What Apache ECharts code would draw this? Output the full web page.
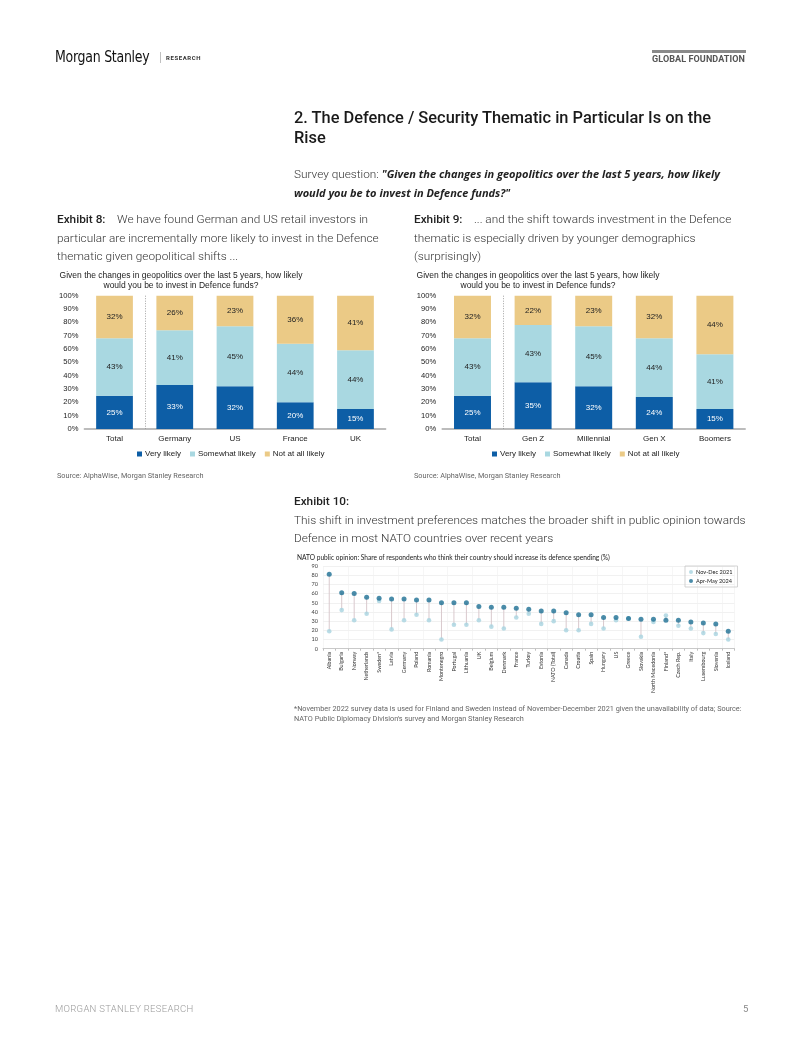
<!DOCTYPE html>
<html><head><meta charset="utf-8">
<script src="https://cdn.jsdelivr.net/npm/echarts@6/dist/echarts.min.js"></script>
<style>
html,body{margin:0;padding:0;background:#fff;}
#page{position:relative;width:802px;height:1037px;overflow:hidden;}
#chart{position:absolute;left:0;top:0;width:802px;height:1037px;}
.t{position:absolute;white-space:nowrap;z-index:2;font-family:Roboto,"Noto Sans",sans-serif;color:#3a3a3a;}
.body{font-size:11.8px;font-weight:300;line-height:18.5px;color:#333;}
.b{font-weight:500;color:#222;}
.q{font-family:"Open Sans",sans-serif;font-style:italic;font-weight:700;font-size:11px;color:#222;}
.src{font-size:7.3px;font-weight:400;color:#666;line-height:10px;}
</style></head>
<body><div id="page">
<div id="chart"></div>
<div class="t" style="left:55px;top:47px;font-family:'Liberation Sans Narrow','DejaVu Sans Condensed',sans-serif;font-size:15.5px;color:#111;line-height:20px;letter-spacing:-0.3px;transform:scaleX(0.9);transform-origin:left center;">Morgan Stanley</div>
<div class="t" style="left:159px;top:49px;font-size:12px;color:#999;line-height:16px;font-weight:300;">|</div>
<div class="t" style="left:166px;top:53px;font-size:6px;font-weight:700;color:#333;letter-spacing:0.6px;line-height:10px;">RESEARCH</div>
<div style="position:absolute;left:652px;top:50px;width:94px;height:3px;background:#8a8a8a;"></div>
<div class="t" style="left:652px;top:53px;font-size:9px;font-weight:700;color:#555;line-height:12px;letter-spacing:0.1px;">GLOBAL FOUNDATION</div>

<div class="t" style="left:294px;top:108px;font-size:16.4px;font-weight:500;color:#1a1a1a;line-height:19.5px;">2. The Defence / Security Thematic in Particular Is on the<br>Rise</div>

<div class="t body" style="left:294px;top:165px;">Survey question: <span class="q">"Given the changes in geopolitics over the last 5 years, how likely</span><br><span class="q">would you be to invest in Defence funds?"</span></div>

<div class="t body" style="left:57px;top:210px;"><span class="b">Exhibit 8:</span>&nbsp;&nbsp;&nbsp;&nbsp;We have found German and US retail investors in<br>particular are incrementally more likely to invest in the Defence<br>thematic given geopolitical shifts ...</div>

<div class="t body" style="left:414px;top:210px;"><span class="b">Exhibit 9:</span>&nbsp;&nbsp;&nbsp;&nbsp;... and the shift towards investment in the Defence<br>thematic is especially driven by younger demographics<br>(surprisingly)</div>

<div class="t src" style="left:57px;top:471px;">Source: AlphaWise, Morgan Stanley Research</div>
<div class="t src" style="left:414px;top:471px;">Source: AlphaWise, Morgan Stanley Research</div>

<div class="t body" style="left:294px;top:492px;"><span class="b">Exhibit 10:</span><br>This shift in investment preferences matches the broader shift in public opinion towards<br>Defence in most NATO countries over recent years</div>

<div class="t src" style="left:294px;top:704px;">*November 2022 survey data is used for Finland and Sweden instead of November-December 2021 given the unavailability of data; Source:<br>NATO Public Diplomacy Division's survey and Morgan Stanley Research</div>

<div class="t" style="left:55px;top:1003px;font-size:9.5px;font-weight:300;color:#9a9a9a;letter-spacing:0.3px;line-height:12px;">MORGAN STANLEY RESEARCH</div>
<div class="t" style="left:743px;top:1003px;font-size:9.5px;font-weight:400;color:#888;line-height:12px;">5</div>
</div>
<script>
// ---- Exhibit 8 ----
const cat8 = ['Total','Germany','US','France','UK'];
const very8 = [25,33,32,20,15];
const some8 = [43,41,45,44,44];
const not8 = [32,26,23,36,41];
// ---- Exhibit 9 ----
const cat9 = ['Total','Gen Z','Millennial','Gen X','Boomers'];
const very9 = [25,35,32,24,15];
const some9 = [43,43,45,44,41];
const not9 = [32,22,23,32,44];
// ---- Exhibit 10 ----
const natoCountries = ['Albania','Bulgaria','Norway','Netherlands','Sweden*','Latvia','Germany','Poland','Romania','Montenegro','Portugal','Lithuania','UK','Belgium','Denmark','France','Turkey','Estonia','NATO (Total)','Canada','Croatia','Spain','Hungary','US','Greece','Slovakia','North Macedonia','Finland*','Czech Rep.','Italy','Luxembourg','Slovenia','Iceland'];
const nov2021 = [19,42,31,38,52,21,31,37,31,10,26,26,31,24,22,34,38,27,30,20,20,27,22,31,33,13,29,36,25,22,17,16,10];
const apr2024 = [81,61,60,56,55,54,54,53,53,50,50,50,46,45,45,44,43,41,41,39,37,37,34,34,33,32,32,31,31,29,28,27,19];

const C_VERY = '#0d5ea6', C_SOME = '#a9d8e1', C_NOT = '#ebca86';
const C_OLD = '#a8d3e0', C_NEW = '#1d6f93';
const ARIAL = 'Liberation Sans, Arial, sans-serif';
const LATO = 'Lato, sans-serif';

const chart = echarts.init(document.getElementById('chart'), null, {renderer:'canvas'});

function barSeries(name, data, idx, color, labelColor){
  return {
    name, type:'bar', stack:'s'+idx, xAxisIndex:idx, yAxisIndex:idx, data,
    barWidth:'61%', itemStyle:{color},
    label:{show:true, position:'inside', formatter:'{c}%', color:labelColor, fontSize:8, fontFamily:ARIAL},
    emphasis:{disabled:true}, animation:false
  };
}
// dotted separator between first and second category, placed via the axis scales
function separator(idx){
  return {name:'sep'+idx, type:'custom', xAxisIndex:idx, yAxisIndex:idx, data:[[0]], silent:true, z:1,
    renderItem:(params, api)=>{
      const a = api.coord([0, 0]), b = api.coord([1, 0]), top = api.coord([0, 100]);
      const x = Math.round((a[0] + b[0]) / 2) + 0.5;
      return {type:'line', shape:{x1:x, y1:top[1], x2:x, y2:a[1]},
        style:{stroke:'#8a8a8a', lineWidth:0.8, lineDash:[1,1.5]}};
    }};
}
function pctY(idx){
  return {gridIndex:idx, type:'value', min:0, max:100, interval:10,
    axisLine:{show:false}, axisTick:{show:false}, splitLine:{show:false},
    axisLabel:{formatter:'{value}%', fontSize:7.6, color:'#222', fontFamily:ARIAL, margin:6}};
}
function catX(idx, data){
  return {gridIndex:idx, type:'category', data,
    axisLine:{lineStyle:{color:'#a6a6a6', width:1.5}}, axisTick:{show:false},
    axisLabel:{fontSize:8, color:'#222', fontFamily:ARIAL, margin:6},
    splitLine:{show:false}};
}
const legendNames = ['Very likely','Somewhat likely','Not at all likely'];
const titleText = 'Given the changes in geopolitics over the last 5 years, how likely\nwould you be to invest in Defence funds?';

const option = {
  animation:false,
  title:[
    {text:titleText, left:181, top:271, textAlign:'center', padding:0,
      textStyle:{fontSize:8.5, fontWeight:'normal', color:'#222', fontFamily:ARIAL, lineHeight:9.6}},
    {text:titleText, left:538, top:271, textAlign:'center', padding:0,
      textStyle:{fontSize:8.5, fontWeight:'normal', color:'#222', fontFamily:ARIAL, lineHeight:9.6}},
    {text:'NATO public opinion: Share of respondents who think their country should increase its defence spending (%)', left:297, top:554, padding:0,
      textStyle:{fontSize:6.6, fontWeight:'normal', color:'#222', fontFamily:LATO}}
  ],
  legend:[
    {data:legendNames, left:132, top:445, itemWidth:5, itemHeight:5, itemGap:9, icon:'rect',
      textStyle:{fontSize:8, color:'#222', fontFamily:ARIAL, padding:[0,0,0,-2]}, selectedMode:false},
    {data:legendNames, left:487, top:445, itemWidth:5, itemHeight:5, itemGap:9, icon:'rect',
      textStyle:{fontSize:8, color:'#222', fontFamily:ARIAL, padding:[0,0,0,-2]}, selectedMode:false},
    {data:['Nov-Dec 2021','Apr-May 2024'], left:685, top:566, orient:'vertical', itemWidth:4, itemHeight:4, itemGap:3,
      icon:'circle', borderColor:'#c8c8c8', borderWidth:0.8, padding:[3,5,3,4],
      textStyle:{fontSize:5.6, color:'#222', fontFamily:LATO, padding:[0,0,0,-2]}, selectedMode:false}
  ],
  grid:[
    {left:84.4, width:301.2, top:295.7, height:133.3},
    {left:442.2, width:303, top:295.7, height:133.3},
    {left:323, width:411.5, top:566, height:82.7}
  ],
  xAxis:[
    catX(0, cat8),
    catX(1, cat9),
    {gridIndex:2, type:'category', data:natoCountries,
      axisLine:{lineStyle:{color:'#bfbfbf', width:0.8}},
      axisTick:{show:true, length:2, lineStyle:{color:'#bfbfbf'}},
      axisLabel:{interval:0, rotate:90, fontSize:5.4, color:'#333', fontFamily:LATO, margin:3},
      splitLine:{show:true, interval:1, lineStyle:{color:'#f0f0f0', width:0.6}}}
  ],
  yAxis:[
    pctY(0), pctY(1),
    {gridIndex:2, type:'value', min:0, max:90, interval:10,
      axisLine:{show:false}, axisTick:{show:false},
      splitLine:{lineStyle:{color:'#e8e8e8', width:0.6}},
      axisLabel:{fontSize:5.6, color:'#444', fontFamily:LATO, margin:5}}
  ],
  series:[
    barSeries('Very likely', very8, 0, C_VERY, '#fff'),
    barSeries('Somewhat likely', some8, 0, C_SOME, '#222'),
    barSeries('Not at all likely', not8, 0, C_NOT, '#222'),
    barSeries('Very likely', very9, 1, C_VERY, '#fff'),
    barSeries('Somewhat likely', some9, 1, C_SOME, '#222'),
    barSeries('Not at all likely', not9, 1, C_NOT, '#222'),
    separator(0), separator(1),
    {name:'range', type:'custom', xAxisIndex:2, yAxisIndex:2,
      data: natoCountries.map((c,i)=>[i, nov2021[i], apr2024[i]]),
      renderItem:(params, api)=>{
        const p1 = api.coord([api.value(0), api.value(1)]);
        const p2 = api.coord([api.value(0), api.value(2)]);
        return {type:'line', shape:{x1:p1[0], y1:p1[1], x2:p2[0], y2:p2[1]},
          style:{stroke:'#d9c9cd', lineWidth:1}};
      }, silent:true, z:1},
    {name:'Nov-Dec 2021', type:'scatter', xAxisIndex:2, yAxisIndex:2, data:nov2021,
      symbol:'circle', symbolSize:4.6, itemStyle:{color:C_OLD}, z:2},
    {name:'Apr-May 2024', type:'scatter', xAxisIndex:2, yAxisIndex:2, data:apr2024,
      symbol:'circle', symbolSize:5, itemStyle:{color:C_NEW}, z:3}
  ]
};
chart.setOption(option);
</script>
</body></html>
